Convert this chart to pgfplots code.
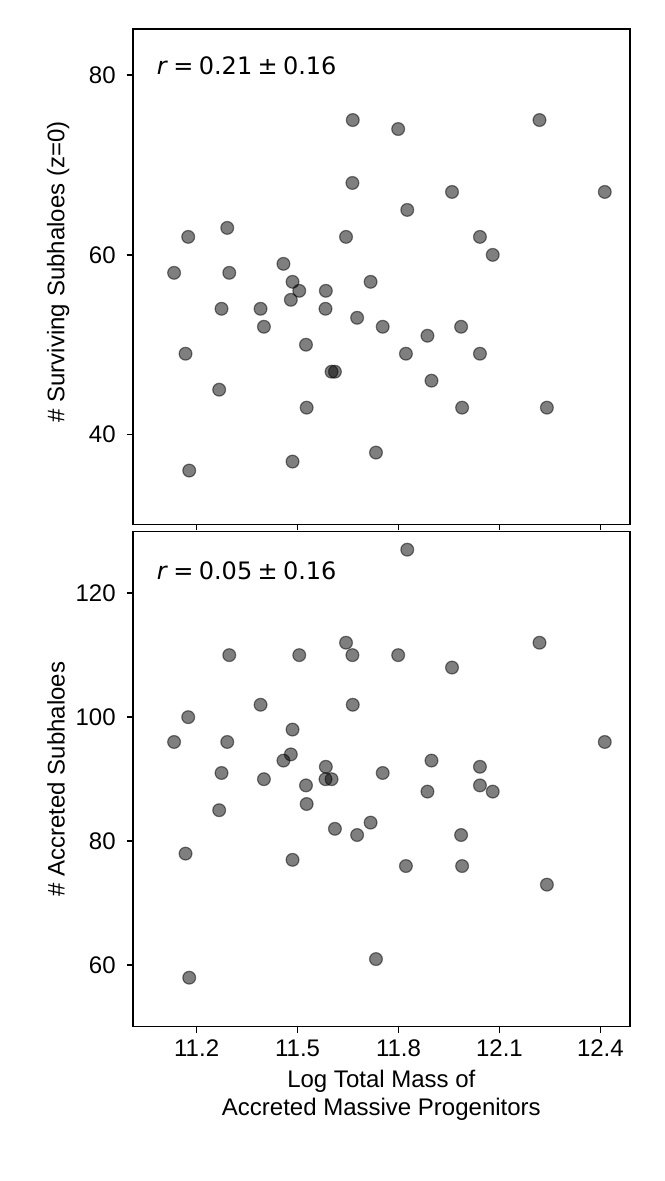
\documentclass[border=0pt]{standalone}
\usepackage{fontspec}
\setmainfont{Liberation Sans}
\newfontfamily\dejavu{DejaVu Sans}
\usepackage{pgfplots}
\pgfplotsset{compat=1.18}

\pgfplotsset{
  panel/.style={
    scale only axis,
    width=248.65pt,
    xmin=11.01, xmax=12.488,
    xtick={11.2,11.5,11.8,12.1,12.4},
    tick align=outside,
    xtick pos=left, ytick pos=left,
    major tick length=3pt,
    every tick/.style={black, line width=0.8pt},
    axis line style={line width=0.8pt},
    tick label style={font=\fontsize{12}{14}\selectfont},
    label style={font=\fontsize{12}{14}\selectfont},
    /pgf/number format/assume math mode=true,
    /pgf/number format/fixed,
    yticklabel style={xshift=-2pt},
  },
  dots/.style={only marks, mark=*, mark size=3.2pt,
    mark options={fill=black, draw=black, fill opacity=0.5, draw opacity=0.5, line width=0.6pt}},
}

\begin{document}
\begin{tikzpicture}
\useasboundingbox (0,0) rectangle (332pt,590.5pt);

% top: surviving subhaloes
\begin{axis}[panel,
  at={(66.35pt,328.25pt)},
  height=247.6pt,
  ymin=30, ymax=85.1,
  ytick={40,60,80},
  xticklabels={},
  ylabel={\# Surviving Subhaloes (z=0)},
  ylabel style={at={(axis description cs:-0.150,0.51)}, anchor=center},
]
\addplot[dots] coordinates {
(11.133,58) (11.175,62) (11.167,49) (11.178,36) (11.267,45) (11.274,54)
(11.291,63) (11.297,58) (11.390,54) (11.400,52) (11.458,59) (11.480,55)
(11.485,57) (11.485,37) (11.505,56) (11.525,50) (11.527,43) (11.584,56)
(11.583,54) (11.601,47) (11.611,47) (11.644,62) (11.664,75) (11.663,68)
(11.677,53) (11.717,57) (11.733,38) (11.753,52) (11.799,74) (11.826,65)
(11.822,49) (11.886,51) (11.898,46) (11.959,67) (11.986,52) (11.989,43)
(12.042,62) (12.042,49) (12.080,60) (12.219,75) (12.241,43) (12.413,67)
};
\node[anchor=base west, inner sep=0pt, font=\dejavu\fontsize{12}{14}\selectfont]
  at (rel axis cs:0.048,0.908) {\textit{r}\kern0.222em=\kern0.222em0.21\kern0.222em±\kern0.222em0.16};
\end{axis}

% bottom: accreted subhaloes
\begin{axis}[panel,
  at={(66.35pt,77.15pt)},
  height=247.5pt,
  ymin=50.1, ymax=129.9,
  ytick={60,80,100,120},
  xticklabels={11.2,11.5,11.8,12.1,12.4},
  ylabel={\# Accreted Subhaloes},
  ylabel style={at={(axis description cs:-0.154,0.5)}, anchor=center},
  xlabel={Log Total Mass of\\Accreted Massive Progenitors},
  xlabel style={align=center},
]
\addplot[dots] coordinates {
(11.133,96) (11.175,100) (11.167,78) (11.178,58) (11.267,85) (11.274,91)
(11.291,96) (11.297,110) (11.390,102) (11.400,90) (11.458,93) (11.480,94)
(11.485,98) (11.485,77) (11.505,110) (11.525,89) (11.527,86) (11.584,92)
(11.583,90) (11.601,90) (11.611,82) (11.644,112) (11.663,110) (11.664,102)
(11.677,81) (11.717,83) (11.733,61) (11.753,91) (11.799,110) (11.826,127)
(11.822,76) (11.886,88) (11.898,93) (11.959,108) (11.986,81) (11.989,76)
(12.042,92) (12.042,89) (12.080,88) (12.219,112) (12.241,73) (12.413,96)
};
\node[anchor=base west, inner sep=0pt, font=\dejavu\fontsize{12}{14}\selectfont]
  at (rel axis cs:0.048,0.903) {\textit{r}\kern0.222em=\kern0.222em0.05\kern0.222em±\kern0.222em0.16};
\end{axis}
\end{tikzpicture}
\end{document}
